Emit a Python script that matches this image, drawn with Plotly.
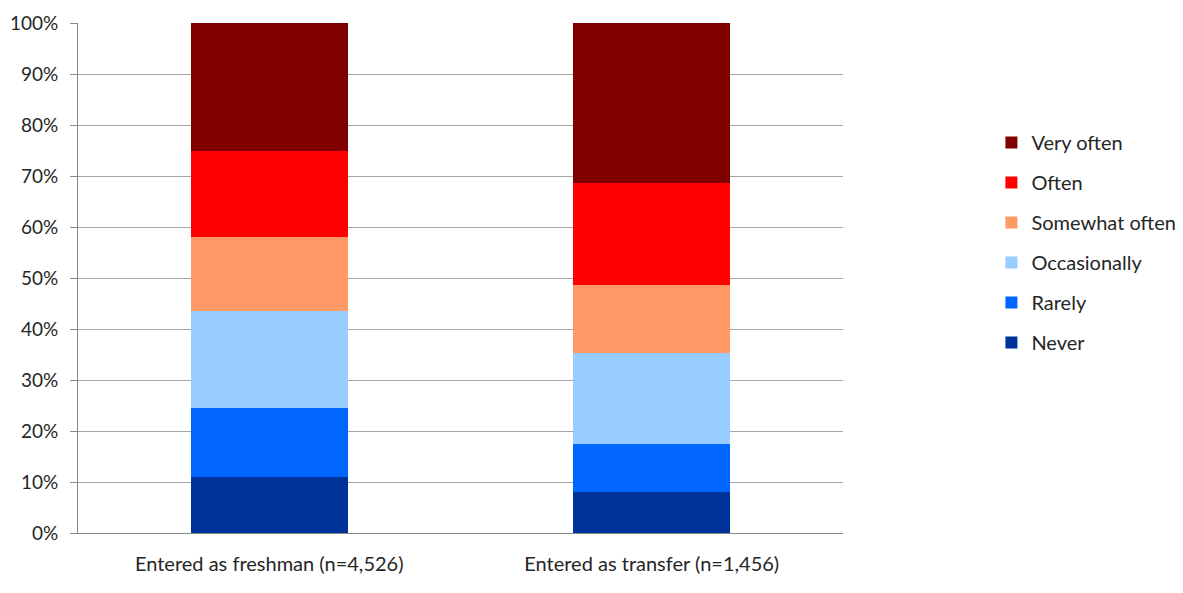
import plotly.graph_objects as go

categories = ["Entered as freshman (n=4,526)", "Entered as transfer (n=1,456)"]
series_names = ["Never", "Rarely", "Occasionally", "Somewhat often", "Often", "Very often"]
never = [11.0, 8.0]
rarely = [13.6, 9.4]
occasionally = [18.9, 17.8]
somewhat_often = [14.6, 13.4]
often = [16.9, 20.1]
very_often = [25.0, 31.3]
colors = ["#003399", "#0066FF", "#99CCFF", "#FF9966", "#FF0000", "#800000"]
y_ticks = [0, 10, 20, 30, 40, 50, 60, 70, 80, 90, 100]
y_tick_labels = [f"{v}%" for v in y_ticks]

values = [never, rarely, occasionally, somewhat_often, often, very_often]

fig = go.Figure()
n = len(series_names)
for i, (name, vals, col) in enumerate(zip(series_names, values, colors)):
    fig.add_trace(go.Bar(
        x=categories, y=vals, name=name, marker_color=col,
        marker_line_width=0, legendgroup=name, legendrank=100 + (n - i),
        hovertemplate="%{x}<br>" + name + ": %{y}%<extra></extra>",
    ))

font_family = "Lato, 'Open Sans', sans-serif"
fig.update_layout(
    barmode="stack",
    bargap=0.59,
    width=1175, height=585,
    margin=dict(l=70, r=340, t=15, b=60, autoexpand=False),
    plot_bgcolor="white", paper_bgcolor="white",
    font=dict(family=font_family, size=19, color="#262626"),
    legend=dict(
        x=1.194, y=0.804, xanchor="left", yanchor="top",
        traceorder="grouped", tracegroupgap=11,
        font=dict(size=20, color="#262626"),
        itemwidth=30,
    ),
    xaxis=dict(
        showline=True, linecolor="#888888", linewidth=1,
        ticks="", tickfont=dict(size=20, color="#262626"),
        ticklabelstandoff=13, automargin=False,
    ),
    yaxis=dict(
        range=[0, 100], tickvals=y_ticks, ticktext=y_tick_labels,
        showgrid=True, gridcolor="#a6a6a6", gridwidth=1,
        showline=True, linecolor="#888888", linewidth=1,
        ticks="outside", ticklen=7, tickcolor="#888888",
        tickfont=dict(size=19, color="#262626"),
        ticklabelstandoff=8,
        zeroline=False, automargin=False,
    ),
)

fig.write_html("out.html")
